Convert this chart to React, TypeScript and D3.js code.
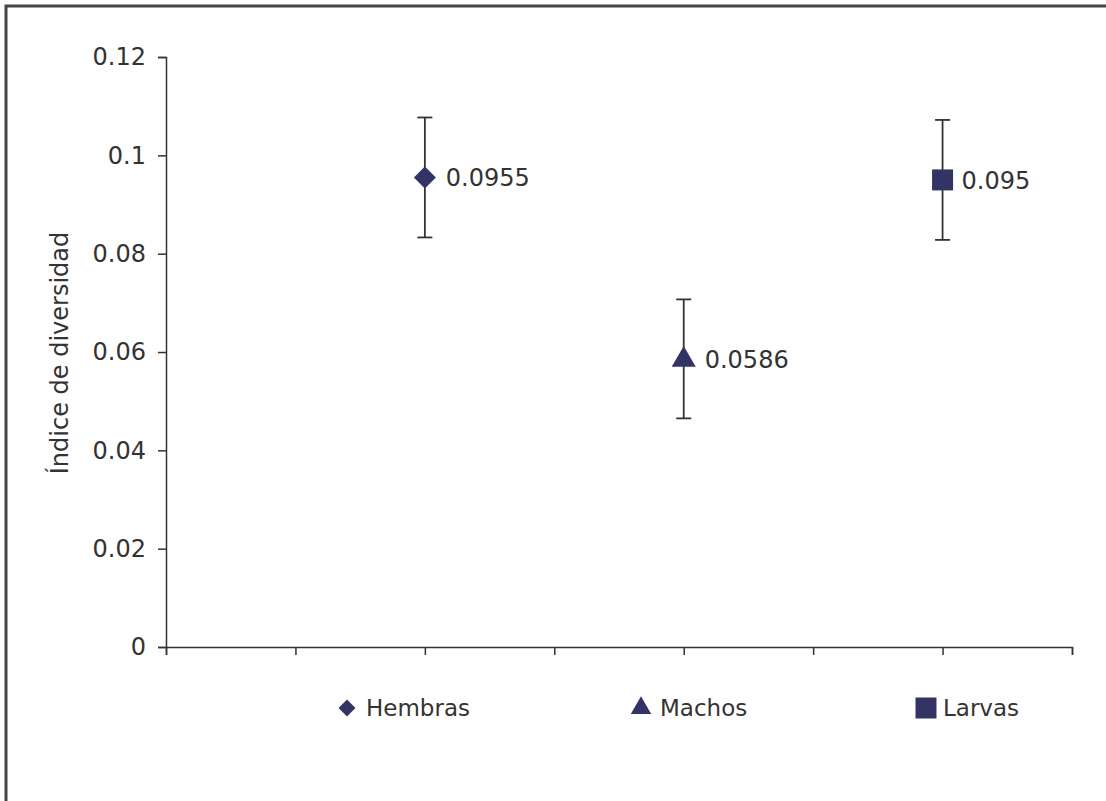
import React, { useRef, useEffect } from "react";
import { select, scaleLinear, axisLeft, axisBottom, symbol, symbolTriangle, symbolSquare } from "d3";

const categories = ["Hembras", "Machos", "Larvas"];
const xPositions = [2, 4, 6];
const values = [0.0955, 0.0586, 0.095];
const errors = [0.0122, 0.0121, 0.0122];
const valueLabels = ["0.0955", "0.0586", "0.095"];
const yTicks = [0, 0.02, 0.04, 0.06, 0.08, 0.1, 0.12];
const xTicks = [0, 1, 2, 3, 4, 5, 6, 7];

// diamond = square rotated 45deg
const shapes = [symbolSquare, symbolTriangle, symbolSquare];
const rotations = [45, 0, 0];
const markerSizes = [242, 250, 441];
const legendSizes = [144, 180, 441];

const numFont = "'DejaVu Sans', Verdana, sans-serif";
const comicFont = "'Comic Sans MS', 'DejaVu Sans', sans-serif";
const navy = "#333366";
const ink = "#333333";

const App = () => {
  const svgRef = useRef<SVGSVGElement>(null);

  const x = scaleLinear().domain([0, 7]).range([166, 1072]);
  const y = scaleLinear().domain([0, 0.12]).range([647, 57]);

  useEffect(() => {
    const svg = select(svgRef.current);

    const yAxis = axisLeft(y)
      .tickValues(yTicks)
      .tickSize(8)
      .tickPadding(12)
      .tickFormat((d) => String(+d));
    svg
      .select<SVGGElement>(".y-axis")
      .attr("transform", "translate(166,0)")
      .call(yAxis);

    const xAxis = axisBottom(x).tickValues(xTicks).tickSize(8).tickFormat(() => "");
    svg
      .select<SVGGElement>(".x-axis")
      .attr("transform", "translate(0,647)")
      .call(xAxis);

    svg.selectAll(".domain").attr("stroke", ink).attr("stroke-width", 1.5);
    svg.selectAll(".tick line").attr("stroke", ink).attr("stroke-width", 1.5);
    svg
      .selectAll(".y-axis .tick text")
      .attr("fill", ink)
      .style("font-family", numFont)
      .style("font-size", "24px");
  }, []);

  const legendX = [347, 641, 926];

  return (
    <svg
      ref={svgRef}
      width={1106}
      height={801}
      style={{ position: "absolute", left: 0, top: 0, background: "#fff" }}
    >
      <rect x={6} y={6} width={1110} height={820} fill="none" stroke="#444" strokeWidth={3} />
      <g className="y-axis"></g>
      <g className="x-axis"></g>
      <text
        transform="translate(68,353) rotate(-90)"
        textAnchor="middle"
        fill={ink}
        style={{ fontFamily: comicFont, fontSize: "24px" }}
      >
        Índice de diversidad
      </text>
      {categories.map((c, i) => {
        const cx = x(xPositions[i]);
        const cy = y(values[i]);
        const top = y(values[i] + errors[i]);
        const bot = y(values[i] - errors[i]);
        return (
          <g key={c}>
            <line x1={cx} x2={cx} y1={top} y2={bot} stroke={ink} strokeWidth={1.8} />
            <line x1={cx - 7.5} x2={cx + 7.5} y1={top} y2={top} stroke={ink} strokeWidth={1.8} />
            <line x1={cx - 7.5} x2={cx + 7.5} y1={bot} y2={bot} stroke={ink} strokeWidth={1.8} />
            <path
              d={symbol(shapes[i], markerSizes[i])() || ""}
              transform={`translate(${cx},${cy + (i === 1 ? 1 : 0)}) rotate(${rotations[i]})`}
              fill={navy}
            />
            <text
              x={cx + (i === 2 ? 19 : 21)}
              y={cy}
              dy="0.36em"
              fill={ink}
              style={{ fontFamily: numFont, fontSize: "24px" }}
            >
              {valueLabels[i]}
            </text>
          </g>
        );
      })}
      {categories.map((c, i) => (
        <g key={"leg" + c} transform={`translate(${legendX[i]},708)`}>
          <path
            d={symbol(shapes[i], legendSizes[i])() || ""}
            transform={`rotate(${rotations[i]})`}
            fill={navy}
          />
          <text
            x={i === 2 ? 17 : 19}
            y={0}
            dy="0.36em"
            fill={ink}
            style={{ fontFamily: comicFont, fontSize: "23px" }}
          >
            {c}
          </text>
        </g>
      ))}
    </svg>
  );
};

export default App;
